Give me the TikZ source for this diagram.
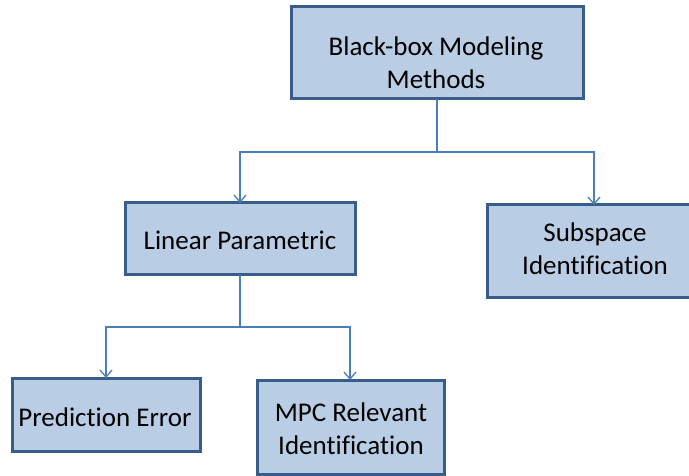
\documentclass[tikz,border=0pt]{standalone}
\usepackage{fontspec}
\setmainfont{Carlito}[Ligatures=NoCommon]
\usetikzlibrary{arrows.meta}
\definecolor{boxfill}{HTML}{B9CDE5}
\definecolor{boxline}{HTML}{385D8A}
\definecolor{wire}{HTML}{4A7EBB}
\tikzset{
  blk/.style={draw=boxline, line width=3pt, fill=boxfill},
  lbl/.style={align=center, font=\fontsize{27}{33}\selectfont, inner sep=0pt},
  link/.style={draw=wire, line width=1.3pt},
  linkarrow/.style={link, -{Straight Barb[length=7pt, width=12pt, line width=1.3pt]}}
}
\begin{document}
\begin{tikzpicture}[x=1pt, y=-1pt]
  \useasboundingbox (0,0) rectangle (689,476);
  \clip (0,0) rectangle (689,476);

  % boxes with their labels
  \draw[blk] (291,7) rectangle (583,99);
  \node[lbl] (top) at (436,63) {Black-box Modeling\\Methods};
  \coordinate (topB) at (437,99);

  \draw[blk] (125,203) rectangle (355,275);
  \node[lbl] (lin) at (240,240) {Linear Parametric};
  \coordinate (linT) at (240,203);
  \coordinate (linB) at (240,275);

  \draw[blk] (487,205) rectangle (700,297);
  \node[lbl] (sub) at (595,249) {Subspace\\Identification};
  \coordinate (subT) at (594,205);

  \draw[blk] (12,378) rectangle (200,451);
  \node[lbl] (pe) at (105,417) {Prediction Error};
  \coordinate (peT) at (106,378);

  \draw[blk] (257,380) rectangle (444,474);
  \node[lbl] (mpc) at (351,429) {MPC Relevant\\Identification};
  \coordinate (mpcT) at (350,380);

  % connectors
  \coordinate (j1) at (437,152);
  \coordinate (j2) at (240,327);
  \draw[link] (topB) -- (j1);
  \draw[linkarrow] (j1) -| (linT);
  \draw[linkarrow] (j1) -| (subT);
  \draw[link] (linB) -- (j2);
  \draw[linkarrow] (j2) -| (peT);
  \draw[linkarrow] (j2) -| (mpcT);
\end{tikzpicture}
\end{document}
